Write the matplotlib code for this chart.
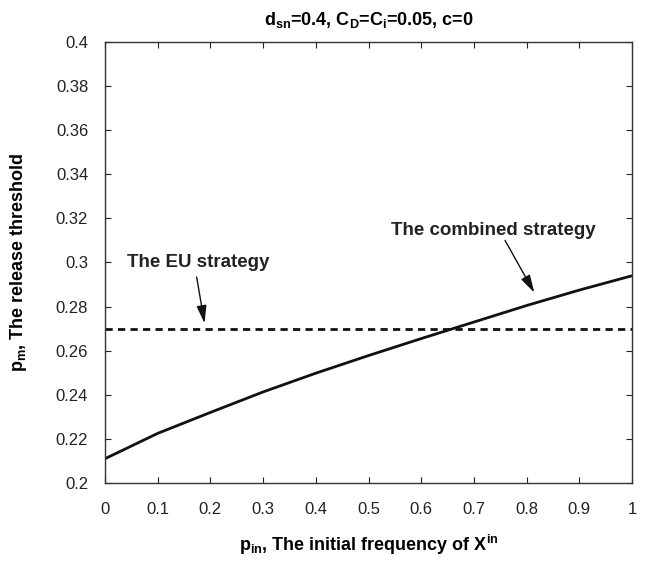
import numpy as np
import matplotlib.pyplot as plt

plt.rcParams['font.family'] = ['Liberation Sans', 'DejaVu Sans']
plt.rcParams['mathtext.fontset'] = 'custom'
plt.rcParams['mathtext.rm'] = 'Liberation Sans'
plt.rcParams['mathtext.bf'] = 'Liberation Sans:bold'
plt.rcParams['font.size'] = 12

# release threshold as a function of the initial frequency
p_in = [0.0, 0.1, 0.2, 0.3, 0.4, 0.5, 0.6, 0.7, 0.8, 0.9, 1.0]
p_combined = [0.211, 0.2225, 0.232, 0.2413, 0.2498, 0.2578, 0.2655, 0.2730, 0.2805, 0.2875, 0.294]
p_eu = 0.27

x_ticks = [0, 0.1, 0.2, 0.3, 0.4, 0.5, 0.6, 0.7, 0.8, 0.9, 1]
y_ticks = [0.2, 0.22, 0.24, 0.26, 0.28, 0.3, 0.32, 0.34, 0.36, 0.38, 0.4]

fig = plt.figure(figsize=(6.64, 5.83), dpi=100)
ax = fig.add_axes([0.158, 0.1715, 0.794, 0.7565])

ax.plot(p_in, p_combined, color='#111111', lw=2.0, solid_capstyle='butt')
ax.plot([0, 1], [p_eu, p_eu], color='#111111', lw=2.0, linestyle=(0, (2.6, 1.9)))

ax.set_xlim(0, 1)
ax.set_ylim(0.2, 0.4)
ax.set_xticks(x_ticks)
ax.set_yticks(y_ticks)
ax.set_xticklabels(['%g' % t for t in x_ticks])
ax.set_yticklabels(['%g' % t for t in y_ticks])
ax.tick_params(direction='in', length=4, width=0.8, top=True, right=True,
               labelsize=12, colors='#222222')
ax.tick_params(axis='y', pad=12)
ax.tick_params(axis='x', pad=14)
for s in ax.spines.values():
    s.set_color('#333333')
    s.set_linewidth(1.0)

ax.set_title(r'd$_{\mathbf{sn}}$=0.4, C$_{\mathbf{D}}$=C$_{\mathbf{i}}$=0.05, c=0',
             fontweight='bold', fontsize=13, pad=12)
ax.set_xlabel(r'p$_{\mathbf{in}}$, The initial frequency of X$^{\mathbf{in}}$',
              fontweight='bold', fontsize=13, labelpad=11)
ax.set_ylabel(r'p$_{\mathbf{m}}$, The release threshold',
              fontweight='bold', fontsize=13, labelpad=19)

arrow = dict(arrowstyle='-|>,head_length=0.9,head_width=0.25', color='#111111', lw=1.0,
             shrinkA=0, shrinkB=0)
ax.annotate('', xy=(0.189, 0.2724), xytext=(0.174, 0.2934), arrowprops=arrow)
ax.text(0.177, 0.300, 'The EU strategy', ha='center', va='center',
        fontweight='bold', fontsize=13.5, color='#222222')
ax.annotate('', xy=(0.8145, 0.2863), xytext=(0.759, 0.310), arrowprops=arrow)
ax.text(0.737, 0.3145, 'The combined strategy', ha='center', va='center',
        fontweight='bold', fontsize=13.5, color='#222222')

fig.savefig('out.png', dpi=100)
